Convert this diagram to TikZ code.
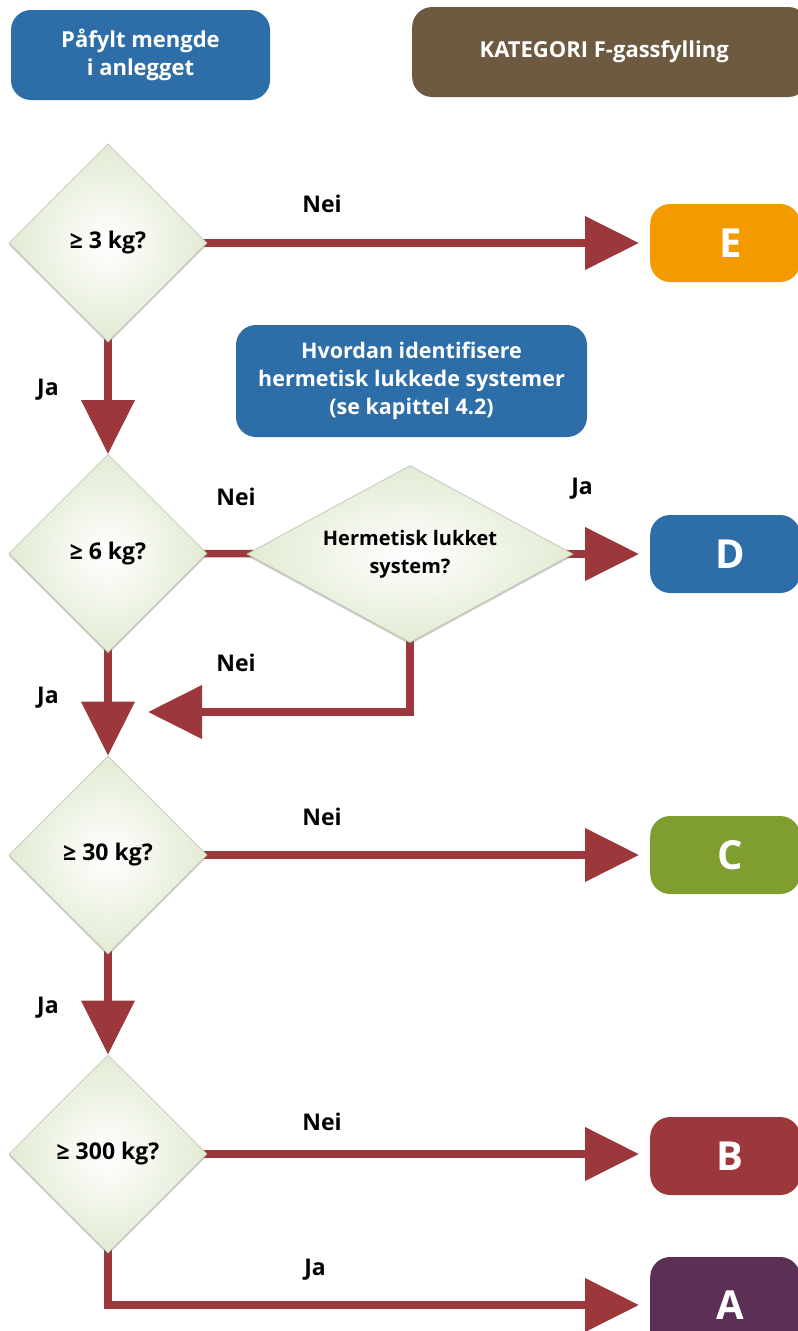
\documentclass[tikz,border=0pt]{standalone}
\usepackage{fontspec}
\setmainfont{Open Sans}
\usetikzlibrary{shapes.geometric,arrows.meta,shadows,backgrounds}

\definecolor{flowred}{HTML}{9C383B}
\definecolor{boxblue}{HTML}{2D6EA8}
\definecolor{boxbrown}{HTML}{6E5A40}
\definecolor{catE}{HTML}{F39A00}
\definecolor{catC}{HTML}{7F9E2F}
\definecolor{catA}{HTML}{5C2F55}
\definecolor{qgreen}{HTML}{E2EBD3}
\definecolor{qedge}{HTML}{C3C9B8}

\begin{document}
\begin{tikzpicture}[
  x=1pt, y=-1pt,
  infobox/.style={fill=boxblue, rounded corners=20pt, text=white, align=center, inner sep=0pt,
    font=\fontsize{22}{28}\selectfont\bfseries},
  catbox/.style={fill=#1, rounded corners=20pt, text=white, inner sep=0pt,
    minimum width=150pt, minimum height=78pt, font=\fontsize{40}{44}\selectfont\bfseries},
  question/.style={diamond, aspect=1, draw=qedge, line width=0.8pt, inner sep=0pt,
    minimum width=198pt, minimum height=198pt, shading=radial, inner color=white, outer color=qgreen,
    drop shadow={shadow xshift=0pt, shadow yshift=-2pt, opacity=0.35, fill=black!60},
    font=\fontsize{23}{28}\selectfont\bfseries, align=center},
  answer/.style={font=\fontsize{23}{26}\selectfont\bfseries, inner sep=0pt},
  flow/.style={draw=flowred, line width=7.5pt, -{Triangle[length=54pt,width=52pt]}, color=flowred},
  link/.style={draw=flowred, line width=7.5pt}
]
\useasboundingbox (0,0) rectangle (798,1331);

% headers
\node[infobox, minimum width=259pt, minimum height=90pt] (fill) at (140.5,55) {Påfylt mengde\\i anlegget};
\node[infobox, fill=boxbrown, minimum width=396pt, minimum height=90pt, anchor=west] (head) at (412,52) {\hspace*{-12pt}KATEGORI F-gassfylling};
\node[infobox, minimum width=351pt, minimum height=112pt, font=\fontsize{21.5}{28}\selectfont\bfseries] (howto) at (411.5,381) {Hvordan identifisere\\hermetisk lukkede systemer\\(se kapittel 4.2)};

% questions
\node[question] (q3) at (108,243) {≥ 3 kg?};
\node[question] (q6) at (108,553.5) {≥ 6 kg?};
\node[question, minimum width=326pt, minimum height=177pt, aspect=1.84,
  font=\fontsize{20}{28}\selectfont\bfseries] (herm) at (410,554) {Hermetisk lukket\\system?};
\node[question] (q30) at (108,855) {≥ 30 kg?};
\node[question] (q300) at (108,1154) {≥ 300 kg?};

% categories
\node[catbox=catE, anchor=west] (E) at (650,243) {\hspace*{10pt}E};
\node[catbox=boxblue, anchor=west] (D) at (650,554) {\hspace*{10pt}D};
\node[catbox=catC, anchor=west] (C) at (650,855) {\hspace*{10pt}C};
\node[catbox=flowred, anchor=west] (B) at (650,1156) {\hspace*{10pt}B};
\node[catbox=catA, anchor=west, minimum height=96pt] (A) at (650,1305) {\hspace*{10pt}A};
\coordinate (back) at (148,712);

% connectors
\begin{scope}[on background layer]
\draw[flow, shorten >=11pt] (q3.center) -- (E.west);
\draw[flow] (q3.center) -- (q6.north);
\draw[link] (q6.center) -- (herm.center);
\draw[flow, shorten >=11pt] (herm.center) -- (D.west);
\draw[flow] (herm.center) |- (back);
\draw[flow] (q6.center) -- (q30.north);
\draw[flow, shorten >=11pt] (q30.center) -- (C.west);
\draw[flow] (q30.center) -- (q300.north);
\draw[flow, shorten >=11pt] (q300.center) -- (q300.center -| B.west);
\draw[flow, shorten >=11pt] (q300.center) |- (A.west);
\end{scope}

% answers
\node[answer] (n1) at (322,204) {Nei};
\node[answer] (j1) at (48,390) {Ja};
\node[answer] (n2) at (236,497) {Nei};
\node[answer] (j2) at (582,489) {Ja};
\node[answer] (n3) at (236,663) {Nei};
\node[answer] (j3) at (48,698) {Ja};
\node[answer] (n4) at (322,817) {Nei};
\node[answer] (j4) at (48,1008) {Ja};
\node[answer] (n5) at (322,1122) {Nei};
\node[answer] (j5) at (315,1270) {Ja};
\end{tikzpicture}
\end{document}
